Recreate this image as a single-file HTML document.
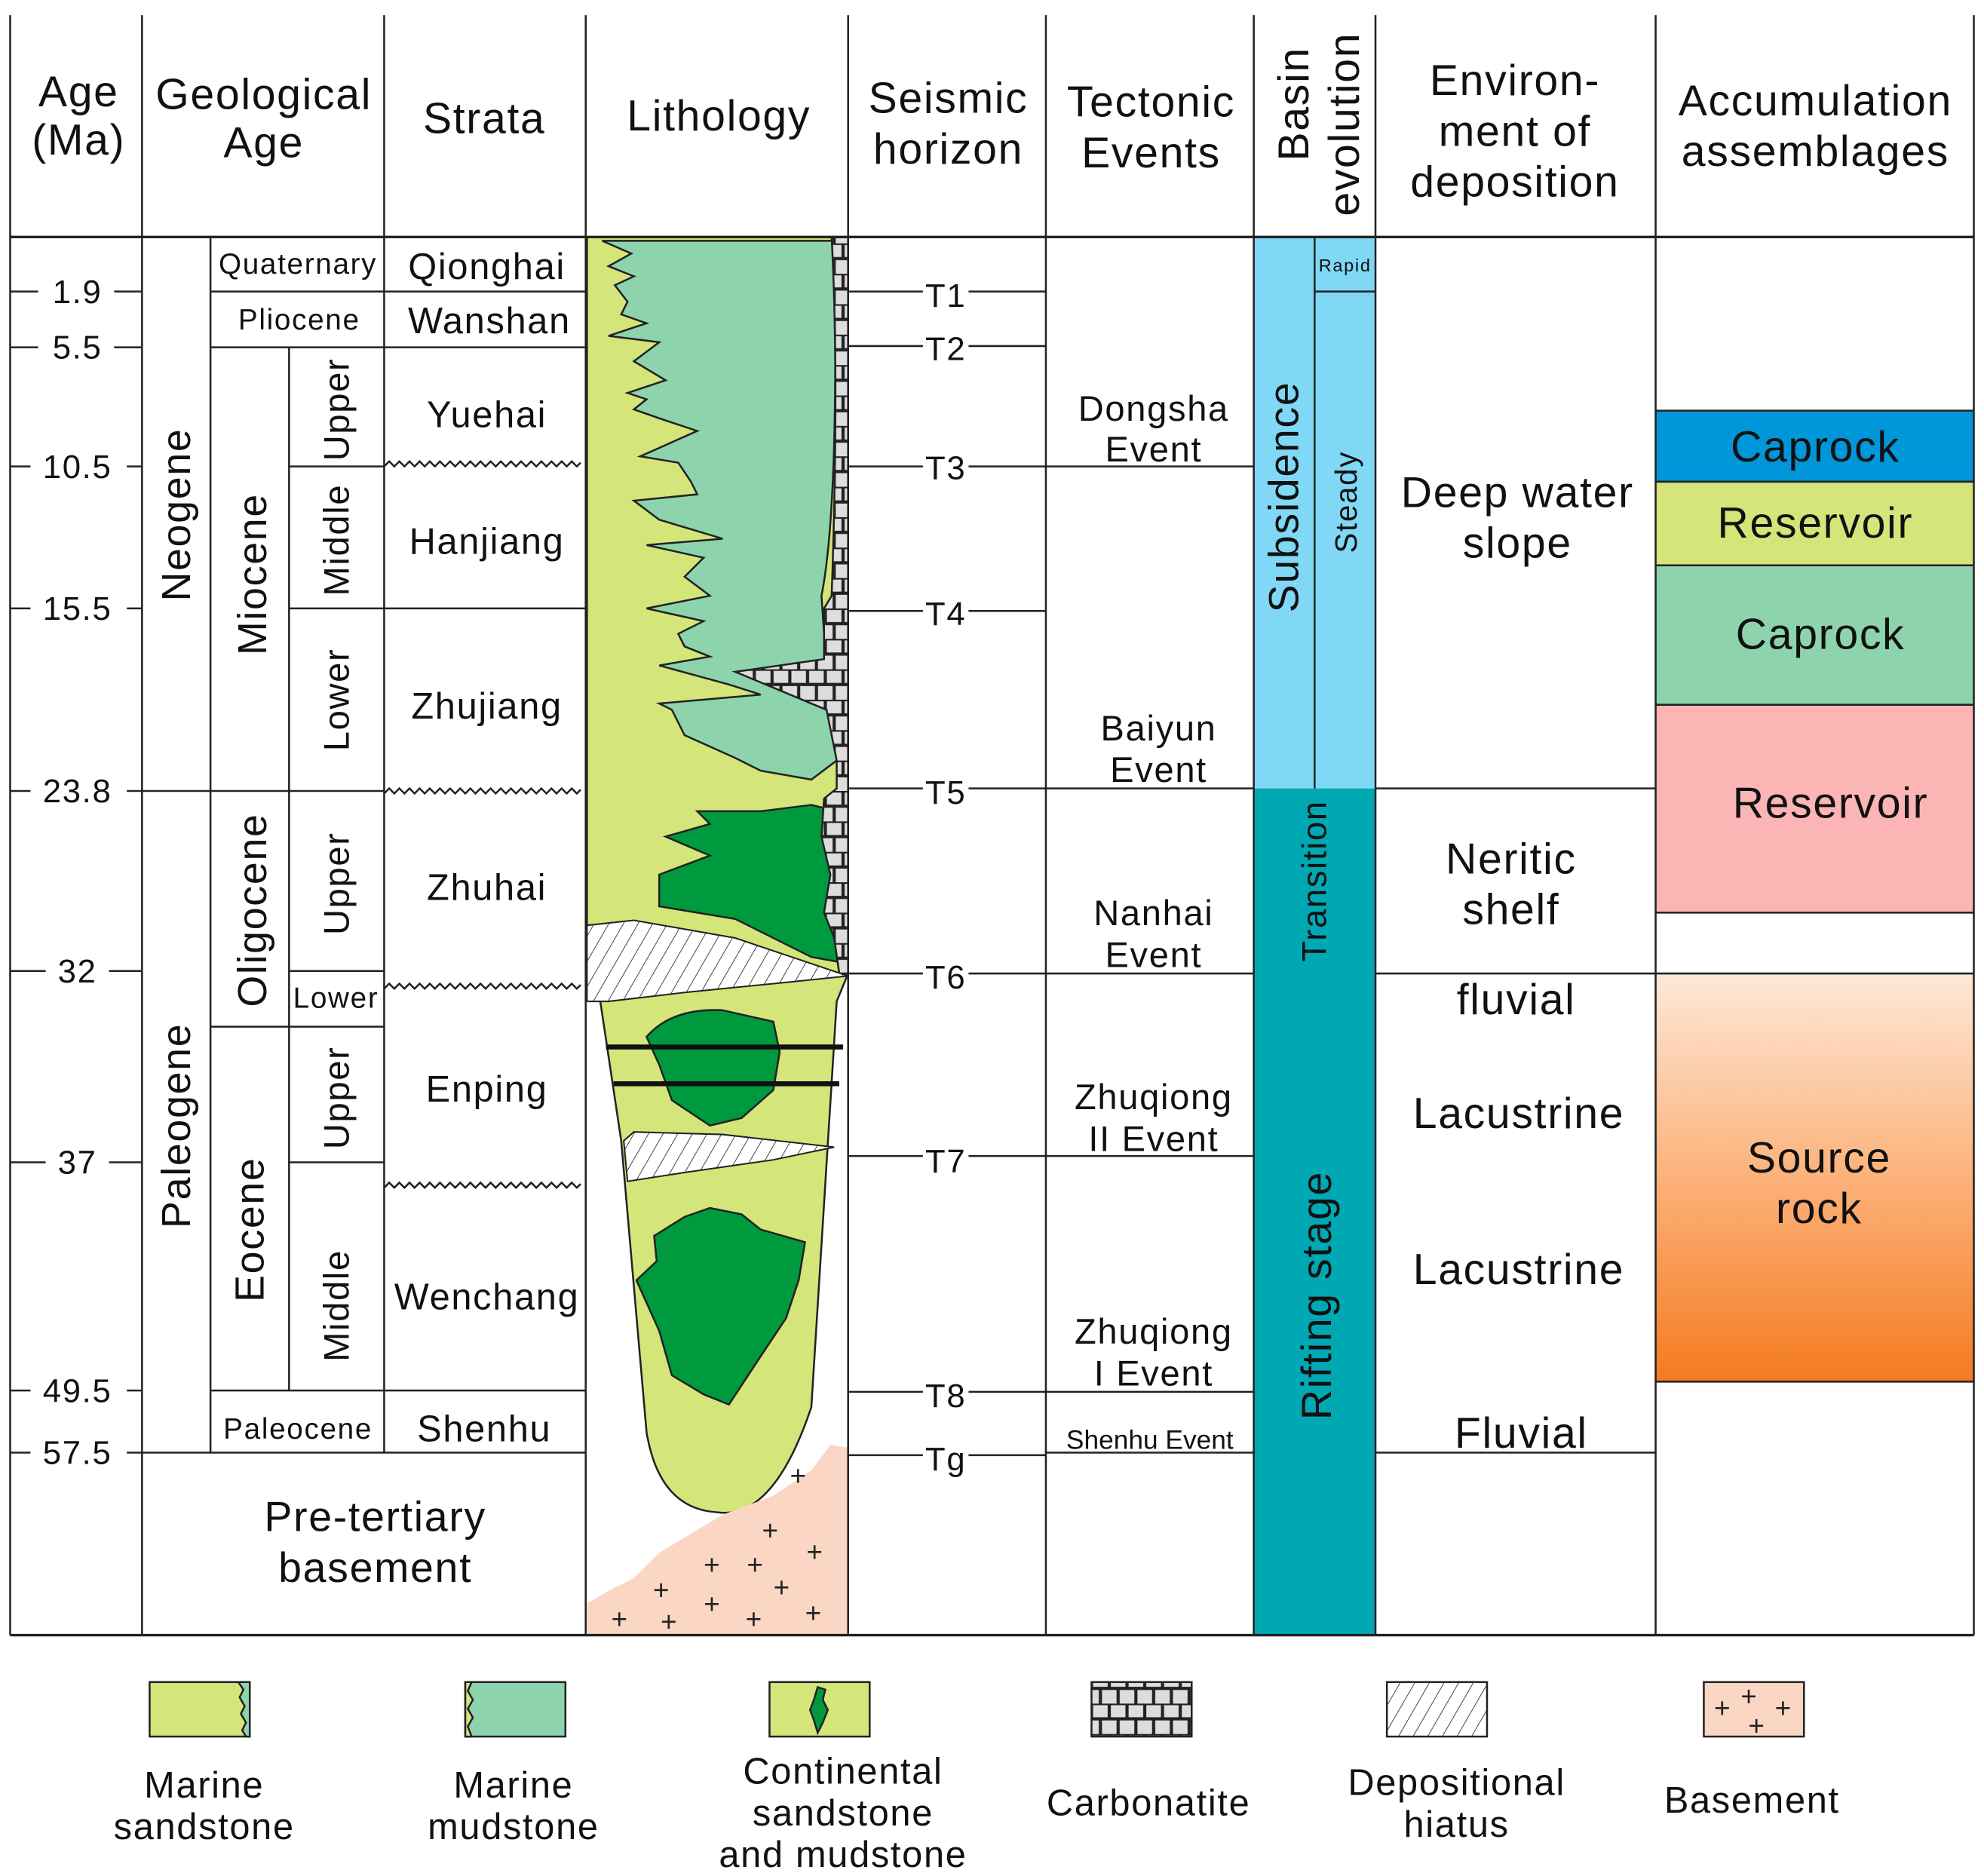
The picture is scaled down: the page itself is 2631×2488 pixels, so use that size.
<!DOCTYPE html>
<html><head><meta charset="utf-8"><style>html,body{margin:0;padding:0;background:#fff}svg{display:block}text{letter-spacing:1px}</style></head>
<body>
<svg xmlns="http://www.w3.org/2000/svg" width="2631" height="2488" viewBox="0 0 1565 1480" font-family="Liberation Sans, Arial, sans-serif" fill="#111">
<defs>
<pattern id="brick" width="14" height="24" patternUnits="userSpaceOnUse">
<rect width="14" height="24" fill="#ddd"/>
<path d="M0 0H14M0 12H14M7 0V12M0 12V24M14 12V24" stroke="#222" stroke-width="2.5"/>
</pattern>
<pattern id="hatch" width="10" height="10" patternUnits="userSpaceOnUse" patternTransform="rotate(30)">
<rect width="10" height="10" fill="#fff"/><path d="M0 0V10" stroke="#222" stroke-width="1"/>
</pattern>
<linearGradient id="src" x1="0" y1="0" x2="0" y2="1">
<stop offset="0" stop-color="#fde8d8"/><stop offset="0.5" stop-color="#fcb27a"/><stop offset="1" stop-color="#f47a20"/>
</linearGradient>
</defs>
<rect width="1565" height="1480" fill="#fff"/>

<rect x="989" y="187" width="48" height="435" fill="#80d8f6"/>
<rect x="1037" y="187" width="48" height="435" fill="#80d8f6"/>
<rect x="989" y="622" width="96" height="668" fill="#00a8b4"/>
<rect x="1306" y="324" width="251" height="56" fill="#0096da"/>
<rect x="1306" y="380" width="251" height="66" fill="#d5e57a"/>
<rect x="1306" y="446" width="251" height="110" fill="#8dd4ac"/>
<rect x="1306" y="556" width="251" height="164" fill="#fbb5b5"/>
<rect x="1306" y="768" width="251" height="322" fill="url(#src)"/>
<g stroke="#222" stroke-width="1.5" fill="none">
<path d="M1306 324H1557M1306 380H1557M1306 446H1557M1306 556H1557M1306 720H1557M1306 768H1557M1306 1090H1557"/>
</g>

<path d="M463 187H669V768L660 790 L640 1110 Q610 1200 565 1193 Q520 1190 510 1130 L490 900 L472 780 L463 770 Z" fill="#d4e57a" stroke="#222" stroke-width="1.5"/>
<path d="M475 190H658 Q662 400 648 470 L652 530 L660 600 L640 615 L600 608 L580 598 L540 580 L530 560 L520 555 L600 548 L575 540 L520 525 L560 518 L540 510 L535 500 L555 490 L510 480 L560 470 L540 455 L555 440 L510 430 L570 425 L520 410 L500 395 L550 390 L545 380 L535 365 L505 360 L550 340 L520 330 L500 323 L510 315 L495 310 L525 300 L500 285 L520 270 L480 265 L510 255 L490 248 L495 238 L485 225 L500 218 L480 210 L498 200 Z" fill="#8dd4ac" stroke="#222" stroke-width="1.5"/>
<path d="M640 635 L660 640 L662 720 L668 760 L640 755 L580 725 L520 715 L520 690 L560 675 L525 660 L560 650 L550 640 L600 640 Z" fill="#009a3e" stroke="#222" stroke-width="1.5"/>
<path d="M656 187H669V768H662 L658 740 L650 720 L655 690 L648 660 L650 630 L660 622 L660 600 L652 560 L580 530 L650 520 L650 480 L656 470 Q662 300 656 187 Z" fill="url(#brick)" stroke="#222" stroke-width="1.5"/>
<path d="M463 730 L500 726 L580 740 L669 770 L620 775 L540 783 L480 790 L463 790 Z" fill="url(#hatch)" stroke="#222" stroke-width="1.2"/>
<path d="M492 900 L500 893 L570 895 L658 905 L610 915 L540 925 L495 932 Z" fill="url(#hatch)" stroke="#222" stroke-width="1.2"/>
<path d="M510 818 Q530 795 570 797 L610 806 L615 830 L610 860 L585 882 L560 888 L530 868 L520 840 Z" fill="#009a3e" stroke="#222" stroke-width="1.5"/>
<path d="M478 826H665M484 855H662" stroke="#111" stroke-width="4"/>
<path d="M540 960 L560 953 L585 958 L600 970 L635 980 L630 1010 L620 1040 L600 1070 L575 1108 L555 1100 L530 1085 L520 1050 L502 1010 L518 995 L516 975 Z" fill="#009a3e" stroke="#222" stroke-width="1.5"/>
<path d="M463 1265 L480 1255 L500 1245 L520 1225 L545 1210 L570 1195 L610 1180 L640 1160 L655 1140 L669 1142 V1290 H463 Z" fill="#fcd6c5"/>
<g font-size="22" fill="#222" text-anchor="middle">
<text x="630" y="1172">+</text><text x="608" y="1215">+</text><text x="643" y="1232">+</text><text x="562" y="1242">+</text><text x="596" y="1242">+</text><text x="522" y="1262">+</text><text x="617" y="1260">+</text><text x="562" y="1273">+</text><text x="489" y="1285">+</text><text x="528" y="1287">+</text><text x="595" y="1285">+</text><text x="642" y="1280">+</text>
</g>

<g stroke="#222" stroke-width="1.5" fill="none">
<path d="M8 12V1290M112 12V1290M303 12V1146M462 12V1290M669 12V1290M825 12V1290M989 12V1290M1085 12V1290M1306 12V1290M1557 12V1290"/>
<path d="M8 187H1557M8 1290H1557" stroke-width="2"/>
<path d="M1037 187V622M1037 230H1085"/>
<path d="M8 230H30M90 230H112M8 274H30M90 274H112M8 368H24M100 368H112M8 480H24M100 480H112M8 624H24M100 624H112M8 766H36M86 766H112M8 917H36M86 917H112M8 1097H24M100 1097H112M8 1146H24M100 1146H462"/>
<path d="M166 187V1146M166 230H462M166 274H462M228 274V1097M228 368H303M228 480H462M112 624H303M228 766H303M166 810H303M228 917H303M166 1097H462"/>
<path d="M303 368 l4 -4 l4 4 l4 -4 l4 4 l4 -4 l4 4 l4 -4 l4 4 l4 -4 l4 4 l4 -4 l4 4 l4 -4 l4 4 l4 -4 l4 4 l4 -4 l4 4 l4 -4 l4 4 l4 -4 l4 4 l4 -4 l4 4 l4 -4 l4 4 l4 -4 l4 4 l4 -4 l4 4 l4 -4 l4 4 l4 -4 l4 4 l4 -4 l4 4 l4 -4 l4 4 l3 -3"/>
<path d="M303 626 l4 -4 l4 4 l4 -4 l4 4 l4 -4 l4 4 l4 -4 l4 4 l4 -4 l4 4 l4 -4 l4 4 l4 -4 l4 4 l4 -4 l4 4 l4 -4 l4 4 l4 -4 l4 4 l4 -4 l4 4 l4 -4 l4 4 l4 -4 l4 4 l4 -4 l4 4 l4 -4 l4 4 l4 -4 l4 4 l4 -4 l4 4 l4 -4 l4 4 l4 -4 l4 4 l3 -3"/>
<path d="M303 780 l4 -4 l4 4 l4 -4 l4 4 l4 -4 l4 4 l4 -4 l4 4 l4 -4 l4 4 l4 -4 l4 4 l4 -4 l4 4 l4 -4 l4 4 l4 -4 l4 4 l4 -4 l4 4 l4 -4 l4 4 l4 -4 l4 4 l4 -4 l4 4 l4 -4 l4 4 l4 -4 l4 4 l4 -4 l4 4 l4 -4 l4 4 l4 -4 l4 4 l4 -4 l4 4 l3 -3"/>
<path d="M303 937 l4 -4 l4 4 l4 -4 l4 4 l4 -4 l4 4 l4 -4 l4 4 l4 -4 l4 4 l4 -4 l4 4 l4 -4 l4 4 l4 -4 l4 4 l4 -4 l4 4 l4 -4 l4 4 l4 -4 l4 4 l4 -4 l4 4 l4 -4 l4 4 l4 -4 l4 4 l4 -4 l4 4 l4 -4 l4 4 l4 -4 l4 4 l4 -4 l4 4 l4 -4 l4 4 l3 -3"/>
<path d="M669 230H728M764 230H825M669 273H728M764 273H825M669 368H728M764 368H825M669 482H728M764 482H825M669 622H728M764 622H825M669 768H728M764 768H825M669 912H728M764 912H825M669 1098H728M764 1098H825M669 1148H728M764 1148H825"/>
<path d="M825 368H989M825 622H989M825 768H989M825 912H989M825 1098H989M825 1146H989"/>
<path d="M1085 622H1306M1085 768H1306M1085 1146H1306"/>
</g>

<g font-size="34" text-anchor="middle">
<text x="62" y="84">Age</text><text x="62" y="122">(Ma)</text>
<text x="208" y="86">Geological</text><text x="208" y="124">Age</text>
<text x="382" y="105">Strata</text>
<text x="567" y="103">Lithology</text>
<text x="748" y="89">Seismic</text><text x="748" y="129">horizon</text>
<text x="908" y="92">Tectonic</text><text x="908" y="132">Events</text>
<text transform="translate(1032,82) rotate(-90)">Basin</text>
<text transform="translate(1072,98) rotate(-90)">evolution</text>
<text x="1195" y="75">Environ-</text><text x="1195" y="115">ment of</text><text x="1195" y="155">deposition</text>
<text x="1432" y="91">Accumulation</text><text x="1432" y="131">assemblages</text>
</g>

<g font-size="26" text-anchor="middle">
<text x="61" y="239">1.9</text><text x="61" y="283">5.5</text><text x="61" y="377">10.5</text><text x="61" y="489">15.5</text><text x="61" y="633">23.8</text><text x="61" y="775">32</text><text x="61" y="926">37</text><text x="61" y="1106">49.5</text><text x="61" y="1155">57.5</text>
</g>
<g font-size="23" text-anchor="middle">
<text x="235" y="216">Quaternary</text><text x="236" y="260">Pliocene</text>
<text x="265" y="795">Lower</text><text x="235" y="1135">Paleocene</text>
</g>
<g font-size="32" text-anchor="middle">
<text transform="translate(150,406) rotate(-90)">Neogene</text>
<text transform="translate(150,888) rotate(-90)">Paleogene</text>
<text transform="translate(210,453) rotate(-90)">Miocene</text>
<text transform="translate(210,718) rotate(-90)">Oligocene</text>
<text transform="translate(208,970) rotate(-90)">Eocene</text>
</g>
<g font-size="28" text-anchor="middle">
<text transform="translate(275,323) rotate(-90)">Upper</text>
<text transform="translate(275,426) rotate(-90)">Middle</text>
<text transform="translate(275,552) rotate(-90)">Lower</text>
<text transform="translate(275,697) rotate(-90)">Upper</text>
<text transform="translate(275,866) rotate(-90)">Upper</text>
<text transform="translate(275,1030) rotate(-90)">Middle</text>
</g>
<g font-size="29" text-anchor="middle">
<text x="384" y="220">Qionghai</text><text x="386" y="263">Wanshan</text><text x="384" y="337">Yuehai</text><text x="384" y="437">Hanjiang</text><text x="384" y="567">Zhujiang</text><text x="384" y="710">Zhuhai</text><text x="384" y="869">Enping</text><text x="384" y="1033">Wenchang</text><text x="382" y="1137">Shenhu</text>
</g>
<g font-size="33" text-anchor="middle"><text x="296" y="1208">Pre-tertiary</text><text x="296" y="1248">basement</text></g>
<g font-size="26" text-anchor="middle">
<text x="746" y="242">T1</text><text x="746" y="284">T2</text><text x="746" y="378">T3</text><text x="746" y="493">T4</text><text x="746" y="634">T5</text><text x="746" y="780">T6</text><text x="746" y="925">T7</text><text x="746" y="1110">T8</text><text x="746" y="1160">Tg</text>
</g>
<g font-size="28" text-anchor="middle">
<text x="910" y="332">Dongsha</text><text x="910" y="364">Event</text>
<text x="914" y="584">Baiyun</text><text x="914" y="617">Event</text>
<text x="910" y="730">Nanhai</text><text x="910" y="763">Event</text>
<text x="910" y="875">Zhuqiong</text><text x="910" y="908">II Event</text>
<text x="910" y="1060">Zhuqiong</text><text x="910" y="1093">I Event</text>
<text x="907" y="1143" font-size="21" style="letter-spacing:0">Shenhu Event</text>
</g>
<text x="1061" y="214" font-size="14" text-anchor="middle">Rapid</text>
<text transform="translate(1070,396) rotate(-90)" font-size="24" text-anchor="middle">Steady</text>
<text transform="translate(1024,392) rotate(-90)" font-size="33" text-anchor="middle">Subsidence</text>
<text transform="translate(1046,695) rotate(-90)" font-size="27" text-anchor="middle">Transition</text>
<text transform="translate(1050,1022) rotate(-90)" font-size="33" text-anchor="middle">Rifting stage</text>
<g font-size="34" text-anchor="middle">
<text x="1197" y="400">Deep water</text><text x="1197" y="440">slope</text>
<text x="1192" y="689">Neritic</text><text x="1192" y="729">shelf</text>
<text x="1196" y="800">fluvial</text>
<text x="1198" y="890">Lacustrine</text>
<text x="1198" y="1013">Lacustrine</text>
<text x="1200" y="1142">Fluvial</text>
<text x="1432" y="364">Caprock</text><text x="1432" y="424">Reservoir</text><text x="1436" y="512">Caprock</text><text x="1444" y="645">Reservoir</text>
<text x="1435" y="925">Source</text><text x="1435" y="965">rock</text>
</g>

<g stroke="#222" stroke-width="1.5">
<rect x="118" y="1327" width="79" height="43" fill="#d4e57a"/>
<path d="M188 1327 l4 6 -3 6 4 7 -3 6 4 7 -3 6 3 5 H197 V1327 Z" fill="#8dd4ac"/>
<rect x="367" y="1327" width="79" height="43" fill="#8dd4ac"/>
<path d="M367 1327 h5 l-3 7 4 7 -4 7 4 7 -4 7 3 8 h-5 Z" fill="#d4e57a"/>
<rect x="607" y="1327" width="79" height="43" fill="#d4e57a"/>
<path d="M645 1331 l6 2 -2 8 4 8 -4 10 -4 8 -3 -10 -3 -8 3 -8 Z" fill="#009a3e"/>
<rect x="861" y="1327" width="79" height="43" fill="url(#brick)"/>
<rect x="1094" y="1327" width="79" height="43" fill="url(#hatch)"/>
<rect x="1344" y="1327" width="79" height="43" fill="#fcd6c5"/>
</g>
<g font-size="22" text-anchor="middle" fill="#222"><text x="1359" y="1355">+</text><text x="1380" y="1346">+</text><text x="1407" y="1355">+</text><text x="1386" y="1369">+</text></g>
<g font-size="29" text-anchor="middle">
<text x="161" y="1418">Marine</text><text x="161" y="1451">sandstone</text>
<text x="405" y="1418">Marine</text><text x="405" y="1451">mudstone</text>
<text x="665" y="1407">Continental</text><text x="665" y="1440">sandstone</text><text x="665" y="1473">and mudstone</text>
<text x="906" y="1432">Carbonatite</text>
<text x="1149" y="1416">Depositional</text><text x="1149" y="1449">hiatus</text>
<text x="1382" y="1430">Basement</text>
</g>
</svg>
</body></html>
